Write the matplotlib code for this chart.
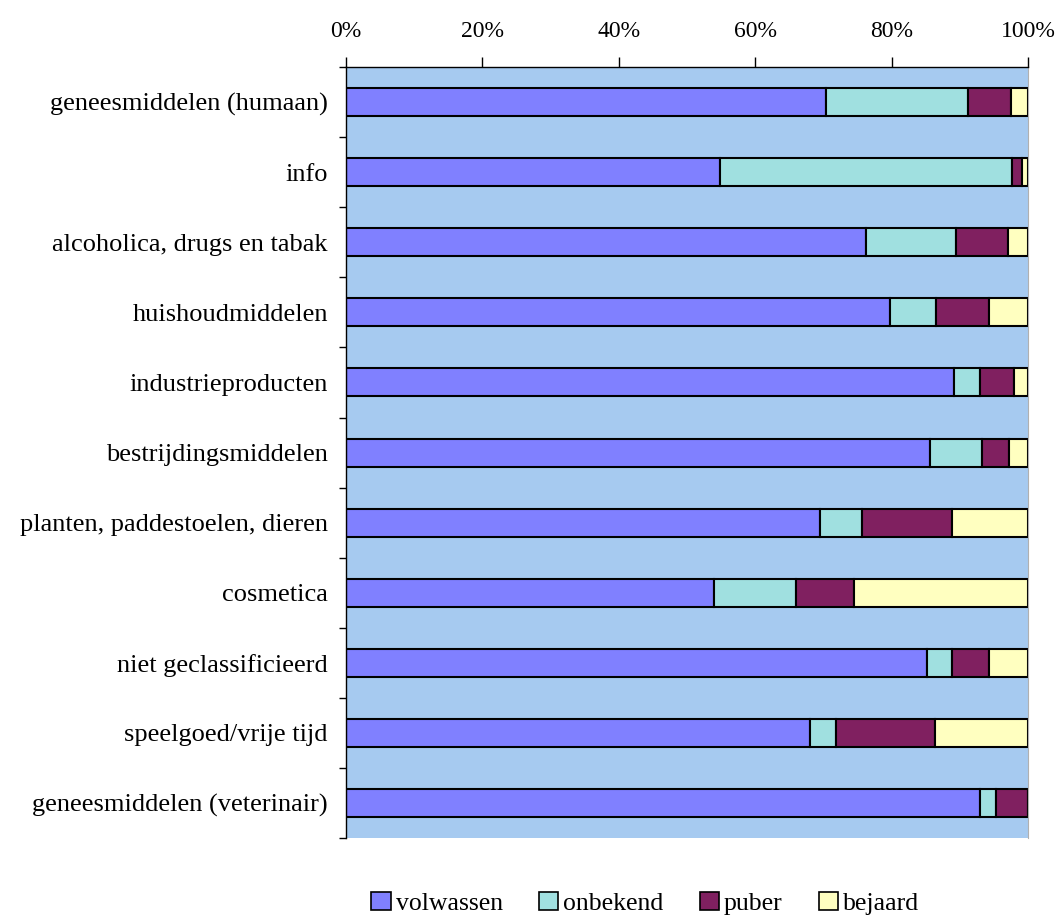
import matplotlib
matplotlib.use("Agg")
import matplotlib.pyplot as plt
from matplotlib.patches import Patch
from matplotlib.ticker import FixedLocator, PercentFormatter
import numpy as np

plt.rcParams['font.family'] = ['Liberation Serif', 'DejaVu Serif']

categories = [
    "geneesmiddelen (humaan)",
    "info",
    "alcoholica, drugs en tabak",
    "huishoudmiddelen",
    "industrieproducten",
    "bestrijdingsmiddelen",
    "planten, paddestoelen, dieren",
    "cosmetica",
    "niet geclassificieerd",
    "speelgoed/vrije tijd",
    "geneesmiddelen (veterinair)",
]

series_names = ["volwassen", "onbekend", "puber", "bejaard"]

volwassen = [70.4, 54.8, 76.2, 79.7, 89.1, 85.6, 69.5, 53.9, 85.1, 68.0, 92.9]
onbekend = [20.8, 42.8, 13.2, 6.7, 3.8, 7.6, 6.1, 12.1, 3.7, 3.8, 2.4]
puber = [6.2, 1.5, 7.6, 7.8, 5.0, 3.9, 13.2, 8.5, 5.4, 14.5, 4.7]
bejaard = [2.6, 0.9, 3.0, 5.8, 2.1, 2.9, 11.2, 25.5, 5.8, 13.7, 0.0]

colors = ["#8080FF", "#A0E0E0", "#802060", "#FFFFC0"]
xticks = [0, 20, 40, 60, 80, 100]

fig = plt.figure(figsize=(10.58, 9.18), dpi=100)
ax = fig.add_axes([0.327, 0.087, 0.645, 0.840])
ax.set_facecolor("#A6CAF0")

y = np.arange(len(categories))
values = [volwassen, onbekend, puber, bejaard]
totals = np.sum(values, axis=0)
left = np.zeros(len(categories))
for name, vals, col in zip(series_names, values, colors):
    share = np.array(vals) / totals * 100
    ax.barh(y, share, left=left, height=0.4, color=col,
            edgecolor="black", linewidth=1.5, label=name)
    left += share

ax.set_ylim(len(categories) - 0.5, -0.5)
ax.set_xlim(0, 100)

ax.xaxis.tick_top()
ax.set_xticks(xticks)
ax.xaxis.set_major_formatter(PercentFormatter(decimals=0))
ax.tick_params(axis="x", direction="out", length=7, width=1, pad=11, labelsize=17)

ax.set_yticks(y)
ax.set_yticklabels(categories, fontsize=19)
ax.yaxis.set_minor_locator(FixedLocator(np.arange(-0.5, len(categories), 1.0)))
ax.tick_params(axis="y", which="major", length=0, pad=13)
ax.tick_params(axis="y", which="minor", direction="out", length=5, width=1)

ax.spines["bottom"].set_visible(False)
ax.spines["right"].set_color("#B0B0B0")
ax.spines["top"].set_linewidth(1)
ax.spines["left"].set_linewidth(1)

handles = [Patch(facecolor=c, edgecolor="black", linewidth=1.2, label=n)
           for n, c in zip(series_names, colors)]
fig.legend(handles=handles, loc="center", bbox_to_anchor=(0.61, 0.016),
           ncol=4, frameon=False, fontsize=18.5, handlelength=0.75,
           handleheight=0.75, handletextpad=0.2, columnspacing=1.4)

fig.savefig("out.png", dpi=100)
